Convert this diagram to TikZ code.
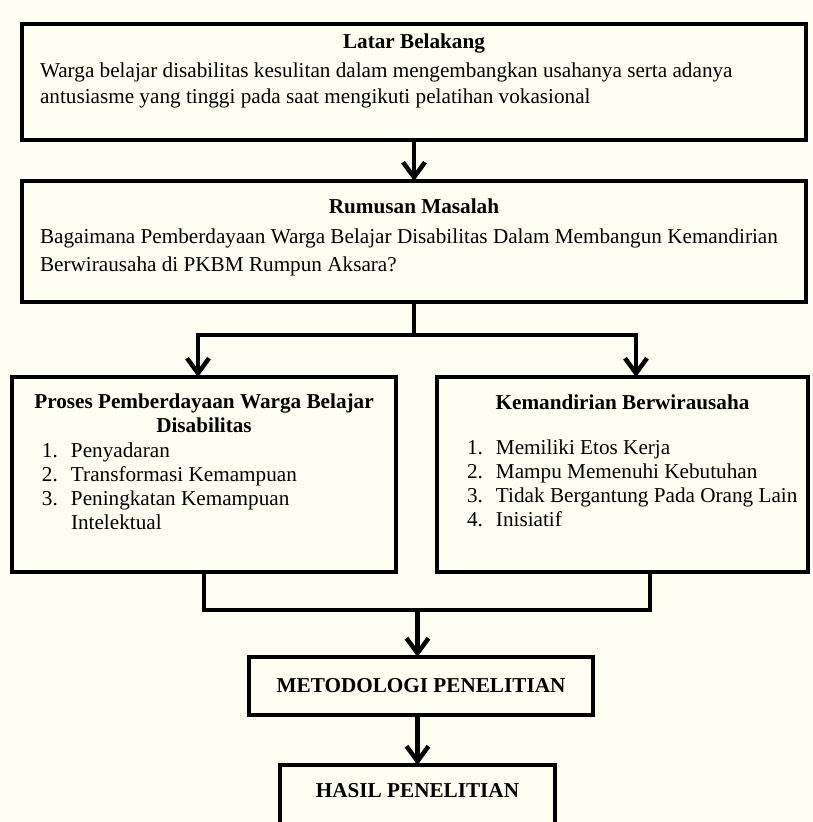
\documentclass[tikz,border=0pt]{standalone}
\usepackage{fontspec}
\setmainfont{Liberation Serif}
\usepackage{tikz}
\usetikzlibrary{arrows.meta,positioning}
\definecolor{krem}{RGB}{254,254,242}

\begin{document}
\begin{tikzpicture}[
    x=1pt, y=-1pt,
    node distance=40pt,
    >={Straight Barb[length=15pt,width=22pt]},
    font=\fontsize{21.2}{26.5}\selectfont,
    kotak/.style={
		rectangle,
		draw=black,
		line width=4.5pt,
		inner sep=0pt,
		outer sep=0pt,
		fill=krem
	},
	garis/.style={
		draw=black,
		line width=4.5pt
	}
  ]

% // background, fixes the margins
\useasboundingbox[fill=krem] (0,0) rectangle (813,822);

\node [kotak, anchor=north west, minimum width=784pt, minimum height=116pt] (latar) at (22,24)
 {%
 \parbox[t][116pt][t]{784pt}{%
  \vspace*{9.5pt}
  {\centering\bfseries Latar Belakang\par}
  \vspace{2.5pt}
  \leftskip=18pt
  Warga belajar disabilitas kesulitan dalam mengembangkan usahanya serta adanya\\
  antusiasme yang tinggi pada saat mengikuti pelatihan vokasional}
 };

\node [kotak, below=41pt of latar, minimum width=784pt, minimum height=121pt] (rumusan)
 {%
 \parbox[t][121pt][t]{784pt}{%
  \fontsize{21.2}{28}\selectfont
  \vspace*{18pt}
  {\centering\bfseries Rumusan Masalah\par}
  \vspace{1.5pt}
  \leftskip=18pt
  Bagaimana Pemberdayaan Warga Belajar Disabilitas Dalam Membangun Kemandirian\\
  Berwirausaha di PKBM Rumpun Aksara?}
 };

% // two sides
\node [kotak, below=75pt of rumusan, xshift=-210pt, minimum width=384pt, minimum height=195pt] (proses)
 {%
 \parbox[t][195pt][t]{384pt}{%
  \fontsize{21.2}{24}\selectfont
  \vspace*{16.5pt}
  {\centering\bfseries Proses Pemberdayaan Warga Belajar\\ Disabilitas\par}
  \vspace{1.5pt}
  \leftskip=30pt
  \makebox[29pt][l]{1.}Penyadaran\\
  \makebox[29pt][l]{2.}Transformasi Kemampuan\\
  \makebox[29pt][l]{3.}Peningkatan Kemampuan\\
  \hspace*{29pt}Intelektual}
 };

\node [kotak, right=41pt of proses, minimum width=371pt, minimum height=195pt] (kemandirian)
 {%
 \parbox[t][195pt][t]{371pt}{%
  \fontsize{21.2}{24}\selectfont
  \vspace*{18pt}
  {\centering\bfseries Kemandirian Berwirausaha\par}
  \vspace{21pt}
  \leftskip=30pt
  \makebox[29pt][l]{1.}Memiliki Etos Kerja\\
  \makebox[29pt][l]{2.}Mampu Memenuhi Kebutuhan\\
  \makebox[29pt][l]{3.}Tidak Bergantung Pada Orang Lain\\
  \makebox[29pt][l]{4.}Inisiatif}
 };

\node [kotak, below=85pt of proses, xshift=217pt, minimum width=344pt, minimum height=58pt,
  font=\fontsize{21.2}{26}\selectfont\bfseries] (metod) {METODOLOGI PENELITIAN};

\node [kotak, below=50pt of metod, xshift=-3.5pt, minimum width=275pt] (hasil)
 {%
 \parbox[t][70pt][t]{275pt}{%
  \centering
  \vspace*{18pt}
  \bfseries HASIL PENELITIAN}
 };

% // connectors
\coordinate [below=33pt of rumusan.south] (cabang);
\coordinate [above=47pt of metod.north, xshift=-3.5pt] (gabung);

\draw [garis, ->] (latar) -- (rumusan);
\draw [garis] (rumusan.south) -- (cabang);
\draw [garis, ->] (cabang) -| ([xshift=-6pt]proses.north);
\draw [garis, ->] (cabang) -| ([xshift=13.5pt]kemandirian.north);

\draw [garis] (proses.south) |- (gabung) -| ([xshift=27.5pt]kemandirian.south);
\draw [garis, ->] (gabung) -- (gabung |- metod.north);
\draw [garis, ->] (metod.south -| hasil.north) -- (hasil);

\end{tikzpicture}
\end{document}
